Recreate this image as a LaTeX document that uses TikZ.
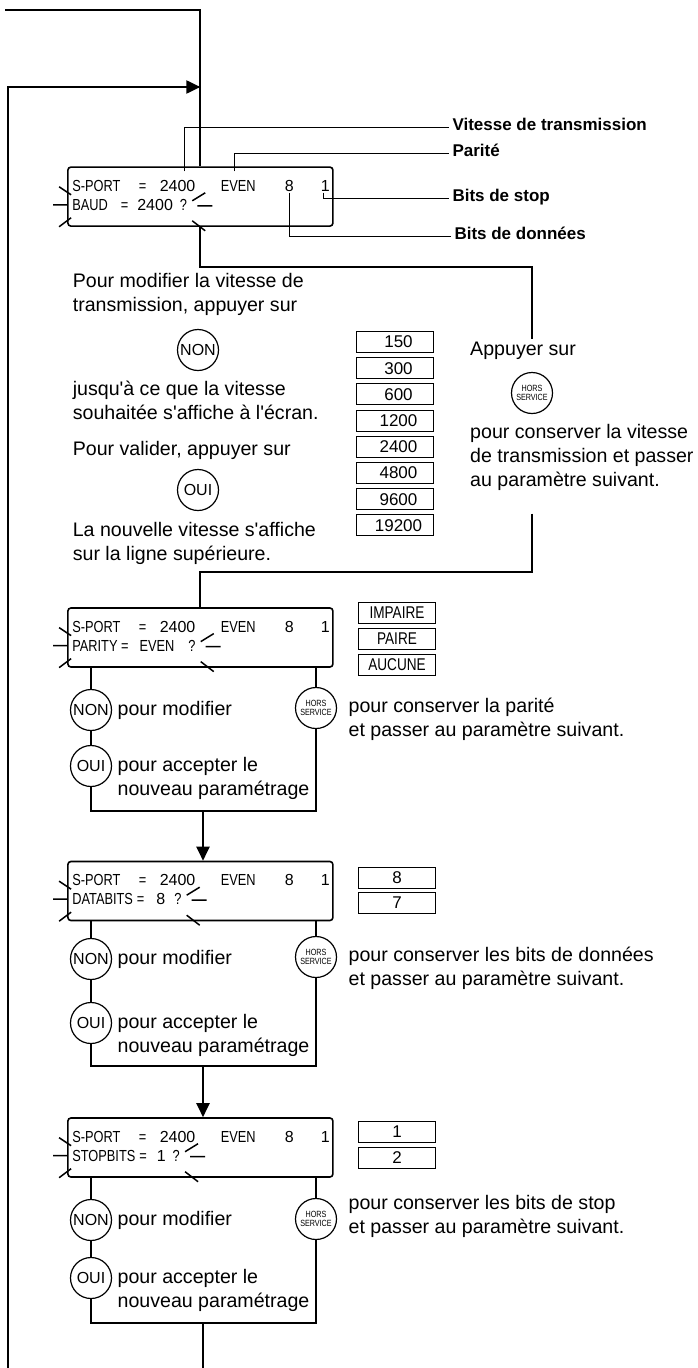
\documentclass[tikz,border=0pt]{standalone}
\usepackage{fontspec}
\setmainfont{Liberation Sans}
\newfontfamily\lcdfont{Liberation Sans}[FakeStretch=0.8]
\newfontfamily\lcdnum{Liberation Sans}
\usepackage{tikz}
\usetikzlibrary{arrows.meta, positioning, calc}
\tikzset{
  flowline/.style={line width=2pt},
  flowarrow/.style={
    line width=2pt, -{Triangle[length=14pt,width=13pt]}
  },
  leader/.style={line width=0.9pt},
  blinkray/.style={line width=1.5pt},
  lcdbox/.style={
    draw, rounded corners=3pt, line width=1.6pt,
    minimum width=265pt, minimum height=59pt
  },
  lcdtext/.style={
    inner sep=1pt, anchor=base west, font=\lcdfont\fontsize{16}{18}\selectfont
  },
  valbox/.style={
    draw, line width=1pt, minimum width=77pt, minimum height=21pt,
    inner sep=0pt, font=\lcdnum\fontsize{17}{20}\selectfont
  },
  keybtn/.style={
    circle, draw, line width=1.2pt, minimum size=41pt, inner sep=0pt,
    font=\fontsize{16}{18}\selectfont
  },
  smallkey/.style={
    keybtn, align=center, font=\lcdfont\fontsize{9}{9.5}\selectfont
  },
  notetext/.style={
    align=left, anchor=west, font=\fontsize{19.6}{24}\selectfont
  },
  fieldlabel/.style={
    anchor=west, font=\fontsize{17}{20}\selectfont\bfseries
  },
  blinkleft/.pic={
    \draw[blinkray] (-8,-18) -- (4,-10) (-14,0) -- (0,0) (-8,22) -- (4,13);
  },
  blinkright/.pic={
    \draw[blinkray] (4,-4) -- (17,-12) (9,1) -- (24,1) (4,16) -- (17,26);
  },
}

% display panel: name, centre y, second row
\newcommand{\lcdpanel}[3]{%
  \node[lcdbox] (#1) at (200.4,#2) {};
  \node[lcdtext] (#1port) at ($(#1.north west)+(4,25)$) {S-PORT};
  \node[lcdtext] (#1eq) at ($(#1.north west)+(70.5,25)$) {=};
  \node[lcdtext] (#1rate) at ($(#1.north west)+(91.5,25)$) {\lcdnum 2400};
  \node[lcdtext] (#1par) at ($(#1.north west)+(152.5,25)$) {EVEN};
  \node[lcdtext] (#1data) at ($(#1.north west)+(216.5,25)$) {\lcdnum 8};
  \node[lcdtext] (#1stop) at ($(#1.north west)+(252.5,25)$) {\lcdnum 1};
  \node[lcdtext] (#1row) at ($(#1.north west)+(4,44)$) {#3};
  \pic at (#1.west |- #1row.west) {blinkleft};
  \pic at (#1row.east) {blinkright};
}

\begin{document}
\begin{tikzpicture}[x=1pt, y=-1pt]
  \useasboundingbox (0,0) rectangle (698,1368);

  % Loop entries
  \coordinate (topin) at (5,9.5);
  \coordinate (merge) at (200.4,87);
  \coordinate (loopin) at (8,1368);
  \coordinate (exit) at (203,1368);

  % Baud rate
  \lcdpanel{lcd1}{196.6}{BAUD\hspace{13pt}=\hspace{9pt}{\lcdnum 2400}\hspace{7pt}?}

  \draw[flowline] (topin) -| (lcd1.north);
  \draw[flowarrow] (loopin) |- (merge);

  % Field labels
  \node[fieldlabel] (lblrate) at (449,124) {Vitesse de transmission};
  \node[fieldlabel] (lblpar) at (449,150) {Parité};
  \node[fieldlabel] (lblstop) at (449,197) {Bits de stop};
  \node[fieldlabel] (lbldata) at (451,233) {Bits de données};

  \draw[leader] ($(lcd1rate.north |- lcd1.north)+(7,5)$)
    |- ([yshift=3pt]lblrate.base west);
  \draw[leader] ($(lcd1par.north |- lcd1.north)+(-4,5)$)
    |- ([yshift=3pt]lblpar.base west);
  \draw[leader] ([xshift=-2pt]lcd1stop.south)
    |- ([yshift=3pt]lblstop.base west);
  \draw[leader] (lcd1data.south) |- ([yshift=3pt]lbldata.base west);

  % Change the rate
  \node[notetext] (howto) at (69.3,294)
    {Pour modifier la vitesse de\\transmission, appuyer sur};
  \node[keybtn] (non1) at (198,350) {NON};
  \node[notetext] (until) at (69.3,400)
    {jusqu\textquotesingle à ce que la vitesse\\souhaitée s\textquotesingle affiche à l\textquotesingle écran.};
  \node[notetext] (valid) at (69.3,450) {Pour valider, appuyer sur};
  \node[keybtn] (oui1) at (198,490) {OUI};
  \node[notetext] (newrate) at (69.3,543)
    {La nouvelle vitesse s\textquotesingle affiche\\sur la ligne supérieure.};

  \foreach \v [count=\i from 0] in {150,300,600,1200,2400,4800,9600,19200}
    \node[valbox] (rate\i) at (395,{342+26.2*\i}) {\hspace*{7pt}\v};

  % Keep the rate
  \node[notetext] (press) at (466.7,351) {Appuyer sur};
  \node[smallkey] (hors1) at (532,393) {HORS\\SERVICE};
  \node[notetext] (keep1) at (466.7,457)
    {pour conserver la vitesse\\de transmission et passer\\au paramètre suivant.};

  \coordinate (turn1) at (532,267);
  \draw[flowline] (lcd1.south) |- (turn1) -- (press.north -| turn1);

  % Parity
  \lcdpanel{lcd2}{637.5}{PARITY\hspace{3.5pt}=\hspace{11pt}EVEN\hspace{14pt}?}
  \draw[flowline] ($(keep1.south -| turn1)+(0,20)$)
    |- ($(lcd2.north)+(0,-35)$) -- (lcd2.north);

  \foreach \v [count=\i from 0] in {IMPAIRE,PAIRE,AUCUNE}
    \node[valbox] (par\i) at (397,{612.5+26.3*\i}) {\lcdfont\v};

  \node[keybtn] (non2) at (91,710) {NON};
  \node[keybtn] (oui2) at (91,766) {OUI};
  \node[smallkey] (hors2) at (316,708) {HORS\\SERVICE};
  \node[notetext, right=2pt of non2] (mod2) {pour modifier};
  \node[notetext] (acc2) at ($(oui2.east)+(2,12)$)
    {pour accepter le\\nouveau paramétrage};
  \node[notetext] (keep2) at ($(hors2.east)+(8,11)$)
    {pour conserver la parité\\et passer au paramètre suivant.};

  \coordinate (fold2) at (203,811);
  \draw[flowline] (lcd2.south -| non2) -- (non2);
  \draw[flowline] (lcd2.south -| hors2) -- (hors2);
  \draw[flowline] (non2) -- (oui2);
  \draw[flowline] (oui2) |- (fold2 -| hors2) -- (hors2);

  % Data bits
  \lcdpanel{lcd3}{891}{DATABITS\hspace{4pt}=\hspace{12pt}{\lcdnum 8}\hspace{9pt}?}
  \draw[flowarrow] (fold2) -- (lcd3.north -| fold2);

  \foreach \v [count=\i from 0] in {8,7}
    \node[valbox] (data\i) at (397,{877.5+25.5*\i}) {\v};

  \node[keybtn] (non3) at (91,959) {NON};
  \node[keybtn] (oui3) at (91,1023) {OUI};
  \node[smallkey] (hors3) at (316,957) {HORS\\SERVICE};
  \node[notetext, right=2pt of non3] (mod3) {pour modifier};
  \node[notetext] (acc3) at ($(oui3.east)+(2,12)$)
    {pour accepter le\\nouveau paramétrage};
  \node[notetext] (keep3) at ($(hors3.east)+(8,11)$)
    {pour conserver les bits de données\\et passer au paramètre suivant.};

  \coordinate (fold3) at (203,1066);
  \draw[flowline] (lcd3.south -| non3) -- (non3);
  \draw[flowline] (lcd3.south -| hors3) -- (hors3);
  \draw[flowline] (non3) -- (oui3);
  \draw[flowline] (oui3) |- (fold3 -| hors3) -- (hors3);

  % Stop bits
  \lcdpanel{lcd4}{1147.5}{STOPBITS\hspace{4pt}=\hspace{10pt}{\lcdnum 1}\hspace{7pt}?}
  \draw[flowarrow] (fold3) -- (lcd4.north -| fold3);

  \foreach \v [count=\i from 0] in {1,2}
    \node[valbox] (stop\i) at (397,{1131.5+26*\i}) {\v};

  \node[keybtn] (non4) at (91,1220) {NON};
  \node[keybtn] (oui4) at (91,1278) {OUI};
  \node[smallkey] (hors4) at (316,1219) {HORS\\SERVICE};
  \node[notetext, right=2pt of non4] (mod4) {pour modifier};
  \node[notetext] (acc4) at ($(oui4.east)+(2,12)$)
    {pour accepter le\\nouveau paramétrage};
  \node[notetext] (keep4) at ($(hors4.east)+(8,-3)$)
    {pour conserver les bits de stop\\et passer au paramètre suivant.};

  \coordinate (fold4) at (203,1323);
  \draw[flowline] (lcd4.south -| non4) -- (non4);
  \draw[flowline] (lcd4.south -| hors4) -- (hors4);
  \draw[flowline] (non4) -- (oui4);
  \draw[flowline] (oui4) |- (fold4 -| hors4) -- (hors4);
  \draw[flowline] (fold4) -- (exit);
\end{tikzpicture}
\end{document}
